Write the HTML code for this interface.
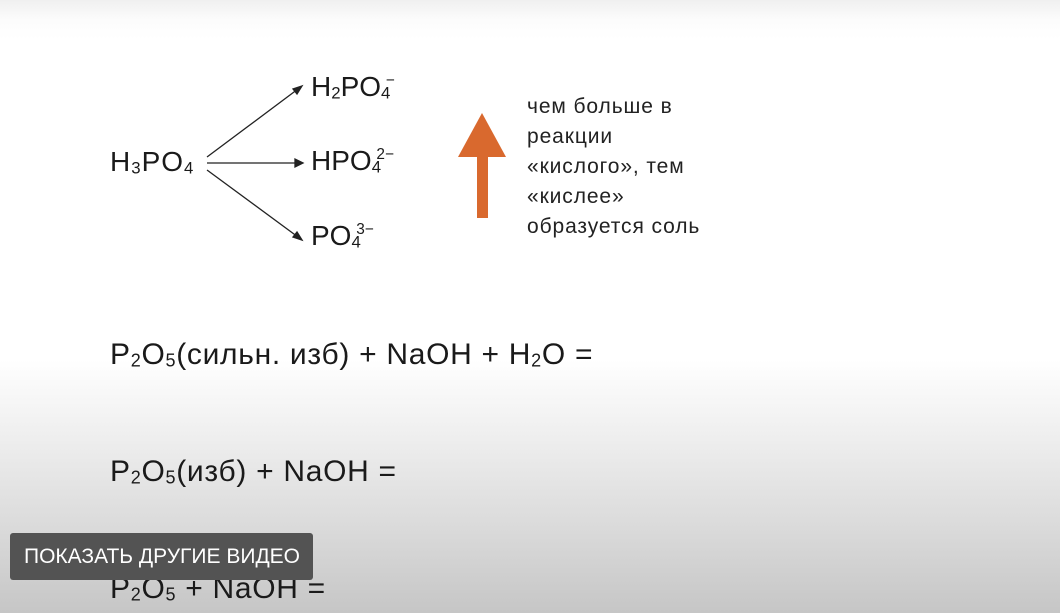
<!DOCTYPE html>
<html><head><meta charset="utf-8"><style>
html,body{margin:0;padding:0}
body{width:1060px;height:613px;position:relative;overflow:hidden;font-family:"Liberation Sans","DejaVu Sans",sans-serif;color:#1a1a1a;
background:linear-gradient(to bottom,#f0f0f0 0px,#fcfcfc 20px,#fff 40px,#fff 360px,#f2f2f2 420px,#dcdcdc 520px,#c6c6c6 613px);}
.t{position:absolute;white-space:nowrap;line-height:1}
sub{font-size:60%;vertical-align:-0.15em}
sup{font-size:55%;vertical-align:0.7em;margin-left:-0.3em}
.r{position:absolute;left:527px;top:92px;font-size:21px;line-height:30px;color:#222;letter-spacing:0.9px}
.btn{position:absolute;left:10px;top:533px;width:303px;height:47px;background:#535353;border-radius:3px;color:#fff;font-size:21px;line-height:47px;text-indent:14px}
.eq{font-size:30px;letter-spacing:0.7px}
</style></head><body>
<div class="t" style="left:110px;top:148px;font-size:28px;letter-spacing:1px">H<sub>3</sub>PO<sub>4</sub></div>
<div class="t" style="left:311px;top:73px;font-size:28px">H<sub>2</sub>PO<sub>4</sub><sup>−</sup></div>
<div class="t" style="left:311px;top:147px;font-size:28px">HPO<sub>4</sub><sup>2−</sup></div>
<div class="t" style="left:311px;top:222px;font-size:28px">PO<sub>4</sub><sup>3−</sup></div>
<svg width="1060" height="613" style="position:absolute;left:0;top:0">
<g stroke="#222" stroke-width="1.3" fill="#222">
<line x1="207" y1="157" x2="298" y2="89"/><polygon points="302,86 293,89 297,94"/>
<line x1="207" y1="163" x2="297" y2="163"/><polygon points="303,163 295,159 295,167"/>
<line x1="207" y1="170" x2="298" y2="237"/><polygon points="302,240 297,232 293,237"/>
</g>
<polygon points="482,113 506,157 458,157" fill="#d9692e"/>
<rect x="477" y="156" width="11" height="62" fill="#d9692e"/>
</svg>
<div class="r">чем больше в<br>реакции<br>«кислого», тем<br>«кислее»<br>образуется соль</div>
<div class="t eq" style="left:110px;top:340px">P<sub>2</sub>O<sub>5</sub>(сильн. изб) + NaOH + H<sub>2</sub>O =</div>
<div class="t eq" style="left:110px;top:457px">P<sub>2</sub>O<sub>5</sub>(изб) + NaOH =</div>
<div class="t eq" style="left:110px;top:574px">P<sub>2</sub>O<sub>5</sub> + NaOH =</div>
<div class="btn">ПОКАЗАТЬ ДРУГИЕ ВИДЕО</div>
</body></html>
